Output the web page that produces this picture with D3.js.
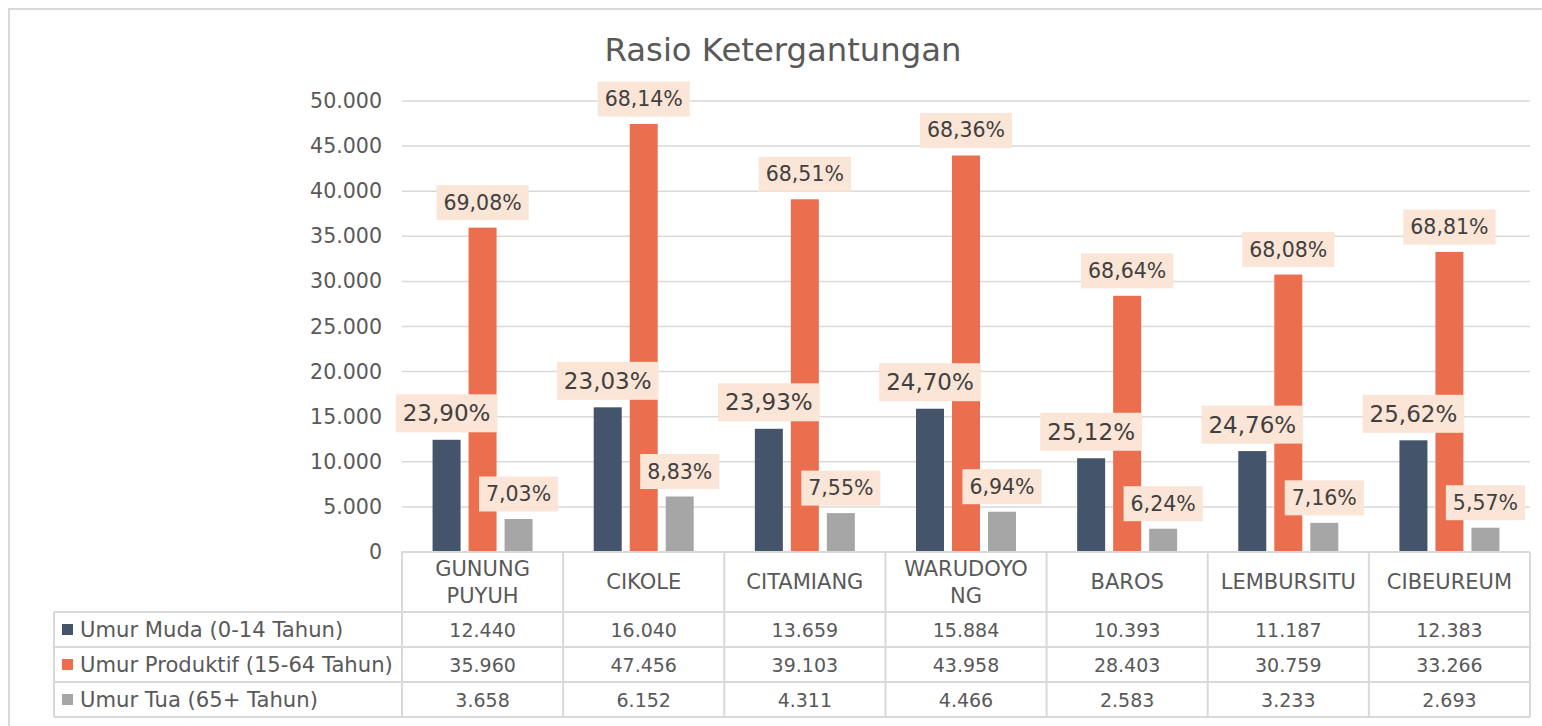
<!DOCTYPE html>
<html>
<head>
<meta charset="utf-8">
<script src="https://cdn.jsdelivr.net/npm/d3@7/dist/d3.min.js"></script>
<style>
  html, body { margin: 0; padding: 0; background: #ffffff; }
  svg { display: block; }
</style>
</head>
<body>
<svg id="chart" width="1542" height="726"></svg>
<script>
// ---------------- DATA ----------------
const categories = ["GUNUNG PUYUH", "CIKOLE", "CITAMIANG", "WARUDOYONG", "BAROS", "LEMBURSITU", "CIBEUREUM"];
const categoryLines = [["GUNUNG", "PUYUH"], ["CIKOLE"], ["CITAMIANG"], ["WARUDOYO", "NG"], ["BAROS"], ["LEMBURSITU"], ["CIBEUREUM"]];
const seriesNames = ["Umur Muda (0-14 Tahun)", "Umur Produktif (15-64 Tahun)", "Umur Tua (65+ Tahun)"];
const umurMuda = [12440, 16040, 13659, 15884, 10393, 11187, 12383];
const umurProduktif = [35960, 47456, 39103, 43958, 28403, 30759, 33266];
const umurTua = [3658, 6152, 4311, 4466, 2583, 3233, 2693];
const pctMuda = [23.90, 23.03, 23.93, 24.70, 25.12, 24.76, 25.62];
const pctProduktif = [69.08, 68.14, 68.51, 68.36, 68.64, 68.08, 68.81];
const pctTua = [7.03, 8.83, 7.55, 6.94, 6.24, 7.16, 5.57];
const yTicks = [0, 5000, 10000, 15000, 20000, 25000, 30000, 35000, 40000, 45000, 50000];
const titleText = "Rasio Ketergantungan";

// ---------------- STYLE ----------------
const FONT = "'DejaVu Sans', sans-serif";
const colors = ["#44546A", "#EB6E4F", "#A6A6A6"];
const textColor = "#595959";
const labelText = "#404040";
const labelBg = "#FBE5D6";
const gridColor = "#D9D9D9";

const seriesValues = [umurMuda, umurProduktif, umurTua];
const seriesPct = [pctMuda, pctProduktif, pctTua];

const svg = d3.select("#chart");
const locale = d3.formatLocale({ decimal: ",", thousands: ".", grouping: [3], currency: ["", ""] });
const fmtInt = locale.format(",.0f");
const fmtPct = v => locale.format(",.2f")(v) + "%";

function fit(str, target) {
  const t = svg.append("text").style("font-family", FONT).style("font-size", "100px").text(str);
  const w = t.node().getComputedTextLength();
  t.remove();
  return 100 * target / w;
}
const fsTitle = fit("Rasio Ketergantungan", 357);
const fsTick = fit("50.000", 72);
const fsBig = 23;
const fsLabel = 20.5;
const fsHead = 21;
const fsVal = 19;
const fsLegend = fit("Umur Produktif (15-64 Tahun)", 313);

// ---------------- LAYOUT ----------------
const plotL = 402, plotR = 1530, plotT = 101, plotB = 552;
const headB = 612, rowH = 35, tableL = 54;

// outer border
svg.append("rect").attr("x", 9).attr("y", 9).attr("width", 1560).attr("height", 760)
  .attr("fill", "none").attr("stroke", gridColor).attr("stroke-width", 2);

// title
svg.append("text").attr("x", 783).attr("y", 61).attr("text-anchor", "middle")
  .style("font-family", FONT).style("font-size", fsTitle + "px").attr("fill", textColor)
  .text(titleText);

const x = d3.scaleBand().domain(categories).range([plotL, plotR]);
const xs = d3.scaleBand().domain(seriesNames).range([0, 100]).paddingInner(8 / 36);
const y = d3.scaleLinear().domain([0, 50000]).range([plotB, plotT]);

// gridlines
svg.append("g").selectAll("line").data(yTicks.filter(d => d > 0)).join("line")
  .attr("x1", plotL).attr("x2", plotR).attr("y1", d => y(d)).attr("y2", d => y(d))
  .attr("stroke", gridColor).attr("stroke-width", 1.5);

// y axis
const yAxis = svg.append("g").attr("transform", `translate(${plotL},0)`)
  .call(d3.axisLeft(y).tickValues(yTicks).tickFormat(fmtInt).tickSize(0).tickPadding(20));
yAxis.select(".domain").remove();
yAxis.selectAll("text").style("font-family", FONT).style("font-size", fsTick + "px").attr("fill", textColor);

// bars
const barData = [];
categories.forEach((c, i) => {
  seriesNames.forEach((s, j) => {
    barData.push({ c, s, j, v: seriesValues[j][i], p: seriesPct[j][i] });
  });
});
const groupOffset = (x.bandwidth() - 100) / 2;
const bx = d => x(d.c) + groupOffset + xs(d.s);

svg.append("g").selectAll("rect").data(barData).join("rect")
  .attr("x", bx).attr("width", xs.bandwidth())
  .attr("y", d => y(d.v)).attr("height", d => y(0) - y(d.v))
  .attr("fill", d => colors[d.j]);

// data labels
const labG = svg.append("g");
barData.forEach(d => {
  const fs = d.j === 0 ? fsBig : fsLabel;
  const cx = bx(d) + xs.bandwidth() / 2;
  const bh = d.j === 0 ? 38 : 35;
  const bottom = y(d.v) - 7.5;
  const g = labG.append("g");
  const t = g.append("text").attr("x", cx).attr("y", bottom - bh / 2)
    .attr("text-anchor", "middle").attr("dominant-baseline", "central")
    .style("font-family", FONT).style("font-size", fs + "px").attr("fill", labelText)
    .text(fmtPct(d.p));
  const w = t.node().getComputedTextLength() + 14;
  g.insert("rect", "text").attr("x", cx - w / 2).attr("y", bottom - bh).attr("width", w).attr("height", bh)
    .attr("fill", labelBg);
});

// ---------------- TABLE ----------------
const tg = svg.append("g");
const tableB = headB + rowH * 3;
// horizontal lines
tg.append("line").attr("x1", plotL).attr("x2", plotR).attr("y1", plotB).attr("y2", plotB)
  .attr("stroke", gridColor).attr("stroke-width", 2);
[0, 1, 2, 3].forEach(k => {
  tg.append("line").attr("x1", tableL).attr("x2", plotR).attr("y1", headB + k * rowH).attr("y2", headB + k * rowH)
    .attr("stroke", gridColor).attr("stroke-width", 2);
});
// vertical lines
tg.append("line").attr("x1", tableL).attr("x2", tableL).attr("y1", headB).attr("y2", tableB)
  .attr("stroke", gridColor).attr("stroke-width", 2);
categories.concat(["__end"]).forEach((c, i) => {
  const xx = i < categories.length ? x(c) : plotR;
  tg.append("line").attr("x1", xx).attr("x2", xx).attr("y1", plotB).attr("y2", tableB)
    .attr("stroke", gridColor).attr("stroke-width", 2);
});
// headers
categories.forEach((c, i) => {
  const lines = categoryLines[i];
  const cx = x(c) + x.bandwidth() / 2;
  const lh = 27;
  const mid = (plotB + headB) / 2;
  lines.forEach((ln, k) => {
    tg.append("text").attr("x", cx).attr("y", mid + (k - (lines.length - 1) / 2) * lh)
      .attr("text-anchor", "middle").attr("dominant-baseline", "central")
      .style("font-family", FONT).style("font-size", fsHead + "px").attr("fill", textColor)
      .text(ln);
  });
});
// rows
seriesNames.forEach((s, j) => {
  const cy = headB + j * rowH + rowH / 2;
  tg.append("rect").attr("x", 62).attr("y", cy - 5.5).attr("width", 11).attr("height", 11).attr("fill", colors[j]);
  tg.append("text").attr("x", 80).attr("y", cy).attr("dominant-baseline", "central")
    .style("font-family", FONT).style("font-size", fsLegend + "px").attr("fill", textColor).text(s);
  categories.forEach((c, i) => {
    tg.append("text").attr("x", x(c) + x.bandwidth() / 2).attr("y", cy)
      .attr("text-anchor", "middle").attr("dominant-baseline", "central")
      .style("font-family", FONT).style("font-size", fsVal + "px").attr("fill", textColor)
      .text(fmtInt(seriesValues[j][i]));
  });
});
</script>
</body>
</html>
